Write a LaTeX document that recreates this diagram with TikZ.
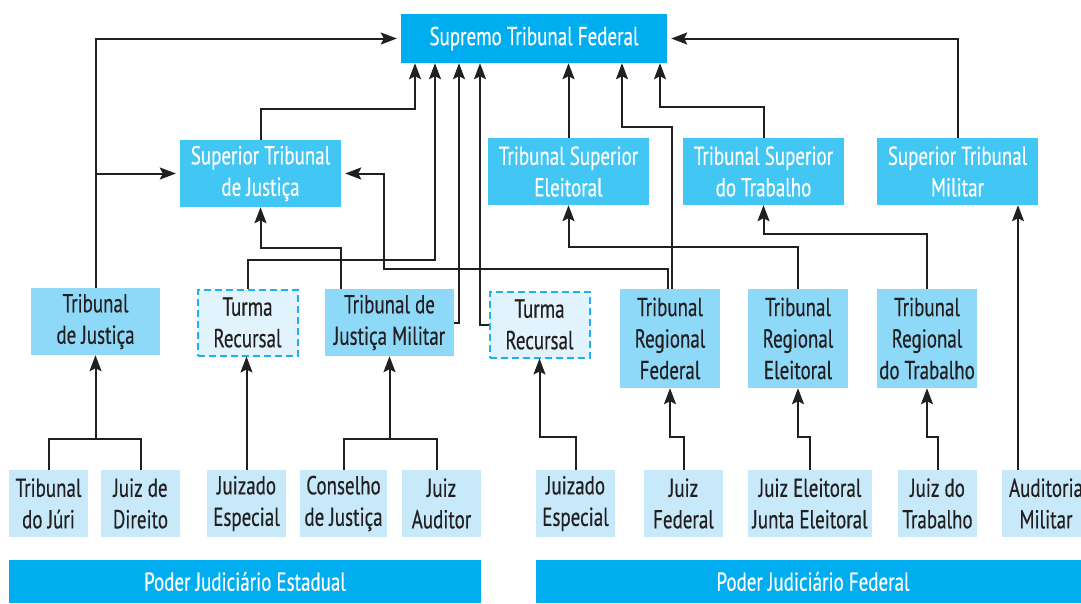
\documentclass[tikz,border=0pt]{standalone}
\usepackage{fontspec}
\usepackage{tikz}
\usetikzlibrary{arrows.meta}
\newfontfamily\cond[FakeStretch=0.73,FakeBold=0.4]{PT Sans}
\definecolor{stfblue}{HTML}{00AEEF}
\definecolor{supblue}{HTML}{42C6F4}
\definecolor{regblue}{HTML}{8ED8F8}
\definecolor{lowblue}{HTML}{C7E9FA}
\definecolor{turmablue}{HTML}{E1F3FC}
\definecolor{dashblue}{HTML}{1DB2EE}
\definecolor{ink}{HTML}{231F20}
\tikzset{
  box/.style={rectangle,inner sep=0pt,align=center,font=\cond\fontsize{26}{31.5}\selectfont,text=ink},
  stfbox/.style={box,fill=stfblue,text=white},
  supbox/.style={box,fill=supblue,text=white,minimum width=161pt,minimum height=67pt},
  regbox/.style={box,fill=regblue,minimum width=129pt,minimum height=67pt},
  turmabox/.style={box,fill=turmablue,draw=dashblue,dash pattern=on 7pt off 4pt,line width=2pt,minimum width=100pt,minimum height=66pt},
  lowbox/.style={box,fill=lowblue,minimum width=79pt,minimum height=67pt},
  poder/.style={box,fill=stfblue,text=white,minimum height=43pt},
  lnk/.style={draw=ink,line width=2pt},
  arr/.style={lnk,-{Stealth[length=16pt,width=12pt,inset=3pt]}}
}

\begin{document}
\begin{tikzpicture}[x=1pt,y=-1pt]
\useasboundingbox (0,0) rectangle (1081,603);
\node[stfbox,minimum width=266pt,minimum height=49pt] (stf) at (534,38.5) {Supremo Tribunal Federal};
\node[supbox] (stj) at (260.5,173.5) {Superior Tribunal\\de Justiça};
\node[supbox] (tse) at (568.5,171.5) {Tribunal Superior\\Eleitoral};
\node[supbox] (tst) at (763.5,171.5) {Tribunal Superior\\do Trabalho};
\node[supbox] (stm) at (957.5,171.5) {Superior Tribunal\\Militar};
\node[regbox] (tj) at (95.5,321.5) {Tribunal\\de Justiça};
\node[turmabox] (tr1) at (247.5,322.5) {Turma\\Recursal};
\node[regbox] (tjm) at (389.5,322.5) {Tribunal de\\Justiça Militar};
\node[turmabox] (tr2) at (539.5,324.5) {Turma\\Recursal};
\node[regbox,minimum width=100pt,minimum height=99pt] (trf) at (670,338.5) {Tribunal\\Regional\\Federal};
\node[regbox,minimum width=100pt,minimum height=99pt] (tre) at (798,338.5) {Tribunal\\Regional\\Eleitoral};
\node[regbox,minimum width=100pt,minimum height=99pt] (trt) at (927,338.5) {Tribunal\\Regional\\do Trabalho};
\node[lowbox] (juri) at (48.5,503.5) {Tribunal\\do Júri};
\node[lowbox] (direito) at (140.5,503.5) {Juiz de\\Direito};
\node[lowbox] (je1) at (246.5,503.5) {Juizado\\Especial};
\node[lowbox,minimum width=87pt] (conselho) at (343.5,503.5) {Conselho\\de Justiça};
\node[lowbox] (auditor) at (441.5,503.5) {Juiz\\Auditor};
\node[lowbox] (je2) at (575.5,503.5) {Juizado\\Especial};
\node[lowbox] (jfed) at (683.5,503.5) {Juiz\\Federal};
\node[lowbox,minimum width=124pt] (jele) at (810,503.5) {Juiz Eleitoral\\Junta Eleitoral};
\node[lowbox] (jtrab) at (937.5,503.5) {Juiz do\\Trabalho};
\node[lowbox,minimum width=88pt] (audmil) at (1046,503.5) {Auditoria\\Militar};
\node[poder,minimum width=472pt] (est) at (245,581.5) {Poder Judiciário Estadual};
\node[poder,minimum width=554pt] (fed) at (813,581.5) {Poder Judiciário Federal};

\draw[arr] (tj.north) |- ([xshift=-4pt]stf.west);
\coordinate (tjfork) at (tj.north |- stj.west);
\draw[arr] (tjfork) -- ([xshift=-4pt]stj.west);
\draw[arr] (stj.north) -- ++(0,-31) -| ([xshift=-119pt]stf.south);
\draw[arr] (tr1.north) -- ++(0,-29) -| ([xshift=-99pt]stf.south);
\draw[arr] ([xshift=-49pt]tjm.north) -- ++(0,-41) -| (stj.south);
\draw[arr] (tjm.east) -| ([xshift=-75pt]stf.south);
\draw[arr] (tr2.west) -| ([xshift=-54pt]stf.south);
\draw[arr] ([xshift=2pt]trf.north) -- ++(0,-162) -| ([xshift=88pt]stf.south);
\draw[arr] ([xshift=-2pt]trf.north) -- ++(0,-20) -- ++(-284,0) |- ([xshift=4pt]stj.east);
\draw[arr] (tse.north) -- (tse.north |- stf.south);
\draw[arr] (tst.north) -- ++(0,-31) -| ([xshift=126pt]stf.south);
\draw[arr] (stm.north) |- ([xshift=4pt]stf.east);
\draw[arr] (tre.north) -- ++(0,-42) -| (tse.south);
\draw[arr] (trt.north) -- ++(0,-55) -| (tst.south);
\draw[arr] ([xshift=-28pt]audmil.north) -- ([xshift=60.5pt]stm.south);

\draw[lnk] (juri.north) -- ++(0,-31) -| (direito.north);
\draw[arr] (tj.south |- 0,439) -- (tj.south);
\draw[arr] (je1.north) -- (je1.north |- tr1.south);
\draw[lnk] (conselho.north) -- ++(0,-31) -| ([xshift=-5pt]auditor.north);
\draw[arr] (tjm.south |- 0,439) -- (tjm.south);
\draw[arr] (je2.north) -- ++(0,-33) -| (tr2.south);
\draw[arr] (jfed.north) -- ++(0,-33) -| (trf.south);
\draw[arr] (jele.north) -- ++(0,-33) -| (tre.south);
\draw[arr] (jtrab.north) -- ++(0,-33) -| (trt.south);
\end{tikzpicture}
\end{document}
